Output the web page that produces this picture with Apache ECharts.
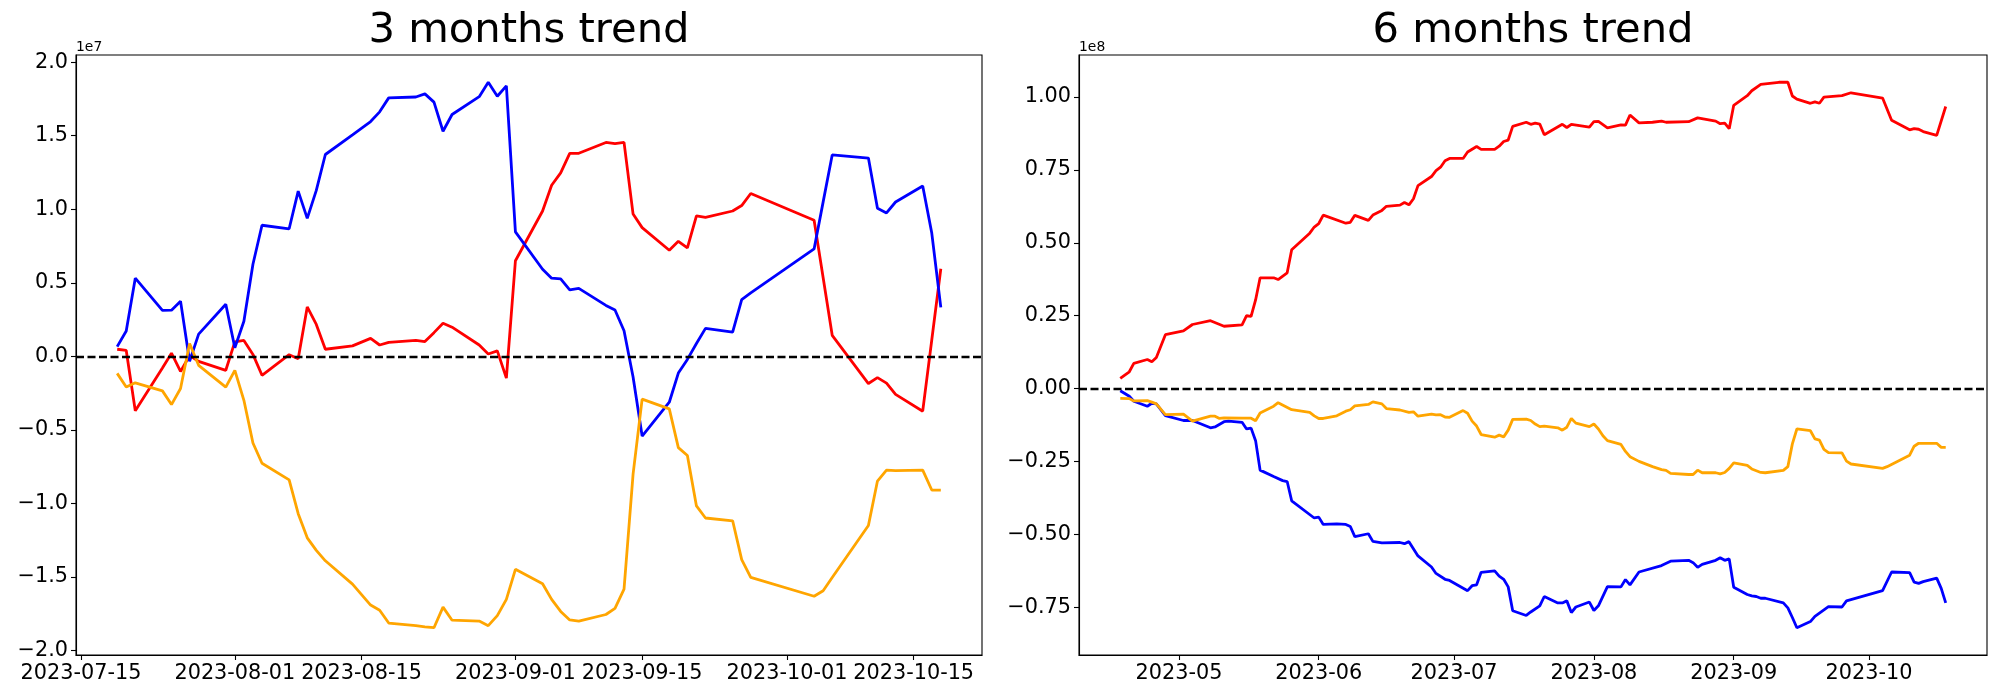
<!DOCTYPE html>
<html>
<head>
<meta charset="utf-8">
<script src="https://cdn.jsdelivr.net/npm/echarts@6/dist/echarts.min.js"></script>
<style>
html,body{margin:0;padding:0;background:#fff;}
#chart{width:2000px;height:700px;}
</style>
</head>
<body>
<div id="chart"></div>
<script>
// ---------- 3 months trend (values in units of 1e7) ----------
const leftDates = ['2023-07-19','2023-07-20','2023-07-21','2023-07-24','2023-07-25','2023-07-26','2023-07-27','2023-07-28','2023-07-31',
 '2023-08-01','2023-08-02','2023-08-03','2023-08-04','2023-08-07','2023-08-08','2023-08-09','2023-08-10','2023-08-11','2023-08-14','2023-08-16','2023-08-17','2023-08-18','2023-08-21','2023-08-22','2023-08-23','2023-08-24','2023-08-25','2023-08-28','2023-08-29','2023-08-30','2023-08-31',
 '2023-09-01','2023-09-04','2023-09-05','2023-09-06','2023-09-07','2023-09-08','2023-09-11','2023-09-12','2023-09-13','2023-09-14','2023-09-15','2023-09-18','2023-09-19','2023-09-20','2023-09-21','2023-09-22','2023-09-25','2023-09-26','2023-09-27',
 '2023-10-04','2023-10-05','2023-10-06','2023-10-10','2023-10-11','2023-10-12','2023-10-13','2023-10-16','2023-10-17','2023-10-18'];
const leftRed = [0.048,0.040,-0.370,-0.079,0.021,-0.103,0.005,-0.034,-0.095,
 0.098,0.108,0.013,-0.129,0.011,-0.016,0.336,0.217,0.048,0.071,0.122,0.077,0.095,0.108,0.100,0.161,0.225,0.198,0.077,0.016,0.037,-0.148,
 0.650,0.988,1.163,1.247,1.380,1.380,1.454,1.446,1.454,0.967,0.875,0.721,0.782,0.737,0.954,0.944,0.988,1.025,1.107,
 0.925,0.534,0.143,-0.185,-0.145,-0.182,-0.259,-0.373,0.111,0.595];
const leftBlue = [0.066,0.172,0.531,0.312,0.314,0.375,-0.034,0.151,0.354,
 0.058,0.238,0.626,0.891,0.867,1.123,0.938,1.128,1.372,1.506,1.596,1.662,1.757,1.763,1.784,1.728,1.530,1.644,1.765,1.863,1.768,1.839,
 0.846,0.592,0.531,0.526,0.452,0.462,0.346,0.315,0.174,-0.140,-0.542,-0.312,-0.114,-0.021,0.087,0.190,0.164,0.386,0.431,
 0.730,1.050,1.369,1.348,1.007,0.975,1.049,1.158,0.838,0.333];
const leftOrange = [-0.116,-0.209,-0.180,-0.235,-0.328,-0.219,0.087,-0.061,-0.209,
 -0.095,-0.299,-0.589,-0.727,-0.840,-1.070,-1.234,-1.319,-1.390,-1.549,-1.691,-1.726,-1.813,-1.831,-1.839,-1.845,-1.705,-1.794,-1.800,-1.831,-1.763,-1.652,
 -1.448,-1.546,-1.652,-1.734,-1.792,-1.800,-1.755,-1.713,-1.583,-0.801,-0.291,-0.357,-0.621,-0.674,-1.017,-1.099,-1.118,-1.382,-1.503,
 -1.631,-1.594,-1.504,-1.150,-0.848,-0.774,-0.777,-0.774,-0.909,-0.909];
const leftXTicks = ['2023-07-15','2023-08-01','2023-08-15','2023-09-01','2023-09-15','2023-10-01','2023-10-15'];
const leftYTicks = [-2.0,-1.5,-1.0,-0.5,0.0,0.5,1.0,1.5,2.0];

// ---------- 6 months trend (values in units of 1e8) ----------
const rightRedDates = ['2023-04-18','2023-04-20','2023-04-21','2023-04-24','2023-04-25','2023-04-26','2023-04-28',
 '2023-05-02','2023-05-04','2023-05-08','2023-05-11','2023-05-15','2023-05-16','2023-05-17','2023-05-18','2023-05-19','2023-05-22','2023-05-23','2023-05-25','2023-05-26','2023-05-30','2023-05-31',
 '2023-06-01','2023-06-02','2023-06-07','2023-06-08','2023-06-09','2023-06-12','2023-06-13','2023-06-15','2023-06-16','2023-06-19','2023-06-20','2023-06-21','2023-06-22','2023-06-23','2023-06-26','2023-06-27','2023-06-28','2023-06-29','2023-06-30',
 '2023-07-03','2023-07-04','2023-07-06','2023-07-07','2023-07-10','2023-07-11','2023-07-12','2023-07-13','2023-07-14','2023-07-17','2023-07-18','2023-07-19','2023-07-20','2023-07-21','2023-07-25','2023-07-26','2023-07-27','2023-07-31',
 '2023-08-01','2023-08-02','2023-08-04','2023-08-07','2023-08-08','2023-08-09','2023-08-11','2023-08-14','2023-08-16','2023-08-17','2023-08-22','2023-08-24','2023-08-28','2023-08-29','2023-08-30','2023-08-31',
 '2023-09-01','2023-09-04','2023-09-05','2023-09-07','2023-09-11','2023-09-13','2023-09-14','2023-09-15','2023-09-18','2023-09-19','2023-09-20','2023-09-21','2023-09-25','2023-09-27',
 '2023-10-04','2023-10-06','2023-10-10','2023-10-11','2023-10-12','2023-10-13','2023-10-16','2023-10-18'];
const rightRed = [0.035,0.058,0.087,0.100,0.092,0.107,0.185,
 0.198,0.220,0.233,0.214,0.219,0.250,0.248,0.304,0.380,0.380,0.374,0.397,0.476,0.533,0.554,
 0.566,0.595,0.567,0.570,0.594,0.577,0.595,0.611,0.625,0.629,0.638,0.630,0.651,0.696,0.727,0.747,0.759,0.781,0.789,
 0.789,0.811,0.830,0.820,0.820,0.831,0.847,0.852,0.899,0.913,0.906,0.910,0.907,0.870,0.906,0.895,0.906,0.896,
 0.915,0.916,0.894,0.904,0.903,0.938,0.911,0.913,0.917,0.913,0.915,0.928,0.917,0.908,0.910,0.891,
 0.971,1.004,1.021,1.043,1.050,1.050,1.003,0.992,0.978,0.983,0.978,0.999,1.004,1.014,
 0.996,0.920,0.887,0.891,0.889,0.881,0.868,0.967];

const rightBlueDates = ['2023-04-18','2023-04-20','2023-04-21','2023-04-24','2023-04-25','2023-04-26','2023-04-28',
 '2023-05-02','2023-05-04','2023-05-08','2023-05-09','2023-05-11','2023-05-12','2023-05-15','2023-05-16','2023-05-17','2023-05-18','2023-05-19','2023-05-22','2023-05-24','2023-05-25','2023-05-26','2023-05-31',
 '2023-06-01','2023-06-02','2023-06-05','2023-06-07','2023-06-08','2023-06-09','2023-06-12','2023-06-13','2023-06-15','2023-06-19','2023-06-20','2023-06-21','2023-06-23','2023-06-26','2023-06-27','2023-06-29','2023-06-30',
 '2023-07-04','2023-07-05','2023-07-06','2023-07-07','2023-07-10','2023-07-11','2023-07-12','2023-07-13','2023-07-14','2023-07-17','2023-07-18','2023-07-20','2023-07-21','2023-07-24','2023-07-25','2023-07-26','2023-07-27','2023-07-28','2023-07-31',
 '2023-08-01','2023-08-02','2023-08-04','2023-08-07','2023-08-08','2023-08-09','2023-08-11','2023-08-16','2023-08-18','2023-08-22','2023-08-23','2023-08-24','2023-08-25','2023-08-28','2023-08-29','2023-08-30','2023-08-31',
 '2023-09-01','2023-09-04','2023-09-05','2023-09-06','2023-09-07','2023-09-08','2023-09-12','2023-09-13','2023-09-14','2023-09-15','2023-09-18','2023-09-19','2023-09-22','2023-09-25','2023-09-26',
 '2023-10-04','2023-10-06','2023-10-10','2023-10-11','2023-10-12','2023-10-13','2023-10-16','2023-10-17','2023-10-18'];
const rightBlue = [-0.007,-0.026,-0.043,-0.060,-0.050,-0.052,-0.092,
 -0.109,-0.109,-0.134,-0.131,-0.113,-0.111,-0.115,-0.138,-0.135,-0.178,-0.279,-0.301,-0.315,-0.318,-0.384,-0.443,
 -0.440,-0.465,-0.463,-0.465,-0.472,-0.507,-0.497,-0.523,-0.528,-0.527,-0.531,-0.524,-0.573,-0.611,-0.633,-0.653,-0.657,
 -0.692,-0.675,-0.672,-0.629,-0.624,-0.642,-0.653,-0.679,-0.761,-0.777,-0.765,-0.744,-0.712,-0.734,-0.734,-0.727,-0.767,-0.748,-0.731,
 -0.760,-0.744,-0.678,-0.679,-0.654,-0.672,-0.628,-0.606,-0.591,-0.588,-0.596,-0.612,-0.602,-0.588,-0.579,-0.588,-0.583,
 -0.680,-0.705,-0.710,-0.712,-0.718,-0.718,-0.734,-0.751,-0.784,-0.819,-0.798,-0.780,-0.747,-0.748,-0.727,
 -0.692,-0.628,-0.630,-0.663,-0.667,-0.661,-0.649,-0.684,-0.734];

const rightOrangeDates = ['2023-04-18','2023-04-20','2023-04-21','2023-04-24','2023-04-25','2023-04-26','2023-04-28',
 '2023-05-02','2023-05-04','2023-05-08','2023-05-09','2023-05-10','2023-05-11','2023-05-15','2023-05-17','2023-05-18','2023-05-19','2023-05-22','2023-05-23','2023-05-26','2023-05-30','2023-05-31',
 '2023-06-01','2023-06-02','2023-06-05','2023-06-07','2023-06-08','2023-06-09','2023-06-12','2023-06-13','2023-06-15','2023-06-16','2023-06-19','2023-06-21','2023-06-22','2023-06-23','2023-06-26','2023-06-27','2023-06-28','2023-06-29','2023-06-30',
 '2023-07-03','2023-07-04','2023-07-05','2023-07-06','2023-07-07','2023-07-10','2023-07-11','2023-07-12','2023-07-13','2023-07-14','2023-07-17','2023-07-18','2023-07-19','2023-07-20','2023-07-21','2023-07-24','2023-07-25','2023-07-26','2023-07-27','2023-07-28','2023-07-31',
 '2023-08-01','2023-08-02','2023-08-03','2023-08-04','2023-08-07','2023-08-08','2023-08-09','2023-08-11','2023-08-14','2023-08-16','2023-08-17','2023-08-18','2023-08-22','2023-08-23','2023-08-24','2023-08-25','2023-08-28','2023-08-29','2023-08-30','2023-08-31',
 '2023-09-01','2023-09-04','2023-09-05','2023-09-07','2023-09-08','2023-09-12','2023-09-13','2023-09-14','2023-09-15','2023-09-18','2023-09-19','2023-09-20','2023-09-21','2023-09-22','2023-09-25','2023-09-26','2023-09-27',
 '2023-10-04','2023-10-05','2023-10-10','2023-10-11','2023-10-12','2023-10-16','2023-10-17','2023-10-18'];
const rightOrange = [-0.033,-0.034,-0.042,-0.041,-0.046,-0.052,-0.089,
 -0.087,-0.111,-0.094,-0.094,-0.102,-0.100,-0.101,-0.101,-0.110,-0.083,-0.060,-0.048,-0.072,-0.081,-0.093,
 -0.102,-0.102,-0.093,-0.077,-0.072,-0.059,-0.054,-0.045,-0.052,-0.068,-0.073,-0.081,-0.079,-0.094,-0.087,-0.090,-0.089,-0.097,-0.098,
 -0.075,-0.084,-0.111,-0.128,-0.157,-0.166,-0.159,-0.165,-0.142,-0.105,-0.104,-0.109,-0.121,-0.130,-0.128,-0.134,-0.142,-0.132,-0.102,-0.118,-0.130,
 -0.121,-0.138,-0.161,-0.178,-0.191,-0.215,-0.233,-0.249,-0.267,-0.277,-0.280,-0.290,-0.294,-0.294,-0.279,-0.288,-0.288,-0.292,-0.287,-0.273,
 -0.254,-0.263,-0.275,-0.287,-0.288,-0.280,-0.267,-0.189,-0.138,-0.144,-0.172,-0.176,-0.208,-0.219,-0.220,-0.248,-0.258,
 -0.273,-0.267,-0.228,-0.197,-0.187,-0.187,-0.201,-0.201];
const rightXTicks = ['2023-05-01','2023-06-01','2023-07-01','2023-08-01','2023-09-01','2023-10-01'];
const rightYTicks = [-0.75,-0.50,-0.25,0.00,0.25,0.50,0.75,1.00];

const titles = ['3 months trend', '6 months trend'];
const LEFT_SCALE = 1e7, RIGHT_SCALE = 1e8;

// ---------- helpers ----------
function ts(s){ const p = s.split('-').map(Number); return new Date(p[0], p[1]-1, p[2]).getTime(); }
function pad2(n){ return (n<10?'0':'')+n; }
function fmtDay(v){ const d=new Date(v); return d.getFullYear()+'-'+pad2(d.getMonth()+1)+'-'+pad2(d.getDate()); }
function fmtMonth(v){ const d=new Date(v); return d.getFullYear()+'-'+pad2(d.getMonth()+1); }
function fmtNum(v, dec){ const s = Math.abs(v).toFixed(dec); return (v < -1e-12 ? '\u2212' : '') + s; }
function pairs(dates, vals, scale){ return dates.map((d,i)=>[ts(d), vals[i]*scale]); }
function xRange(dates){ const a=ts(dates[0]), b=ts(dates[dates.length-1]); const m=0.05*(b-a); return [a-m, b+m]; }
function yRange(arrs, scale){ let lo=Infinity, hi=-Infinity; arrs.forEach(a=>a.forEach(v=>{lo=Math.min(lo,v);hi=Math.max(hi,v);})); const m=0.05*(hi-lo); return [(lo-m)*scale,(hi+m)*scale]; }

const FONT = 'DejaVu Sans';
const TICK_FS = 20.8;
const LINE_W = 2.8;
const grids = [
  {left:76, top:55, width:906, height:600},
  {left:1079, top:55, width:908, height:600}
];

const lx = xRange(leftDates);
const rx = xRange(rightRedDates);
const ly = yRange([leftRed,leftBlue,leftOrange], LEFT_SCALE);
const ry = yRange([rightRed,rightBlue,rightOrange], RIGHT_SCALE);

function xAxisCfg(idx, range, ticks, fmt){
  const tv = ticks.map(ts);
  return {
    type:'value', gridIndex:idx, min:range[0], max:range[1], scale:true,
    axisLine:{show:true, onZero:false, lineStyle:{color:'#000', width:1.1}},
    axisTick:{show:true, inside:false, length:5, lineStyle:{color:'#000', width:1.1}, customValues:tv},
    axisLabel:{show:true, customValues:tv, formatter:fmt, color:'#000', fontSize:TICK_FS, fontFamily:FONT, margin:8, hideOverlap:false},
    splitLine:{show:false}, minorTick:{show:false}
  };
}
function yAxisCfg(idx, range, ticks, scale, dec){
  const tv = ticks.map(v=>v*scale);
  return {
    type:'value', gridIndex:idx, min:range[0], max:range[1], scale:true,
    axisLine:{show:true, onZero:false, lineStyle:{color:'#000', width:1.1}},
    axisTick:{show:true, inside:false, length:5, lineStyle:{color:'#000', width:1.1}, customValues:tv},
    axisLabel:{show:true, customValues:tv, formatter:v=>fmtNum(v/scale, dec), color:'#000', fontSize:TICK_FS, fontFamily:FONT, margin:8},
    splitLine:{show:false}
  };
}
function lineSeries(idx, data, color, withZero){
  const s = {
    type:'line', xAxisIndex:idx, yAxisIndex:idx, data:data, showSymbol:false, symbol:'none',
    lineStyle:{color:color, width:LINE_W}, itemStyle:{color:color}, silent:true, z:2, animation:false
  };
  if(withZero){
    s.markLine = {
      silent:true, symbol:['none','none'], label:{show:false}, animation:false,
      lineStyle:{color:'#000', type:[8,3.5], width:2.4},
      emphasis:{disabled:true},
      data:[{yAxis:0}]
    };
  }
  return s;
}

const chart = echarts.init(document.getElementById('chart'), null, {renderer:'canvas'});
chart.setOption({
  backgroundColor:'#fff',
  animation:false,
  grid: grids.map(g=>Object.assign({show:true, borderColor:'#000', borderWidth:1.1, backgroundColor:'transparent', containLabel:false}, g)),
  xAxis:[ xAxisCfg(0, lx, leftXTicks, fmtDay), xAxisCfg(1, rx, rightXTicks, fmtMonth) ],
  yAxis:[ yAxisCfg(0, ly, leftYTicks, LEFT_SCALE, 1), yAxisCfg(1, ry, rightYTicks, RIGHT_SCALE, 2) ],
  series:[
    lineSeries(0, pairs(leftDates, leftRed, LEFT_SCALE), 'red', false),
    lineSeries(0, pairs(leftDates, leftBlue, LEFT_SCALE), 'blue', false),
    lineSeries(0, pairs(leftDates, leftOrange, LEFT_SCALE), 'orange', true),
    lineSeries(1, pairs(rightRedDates, rightRed, RIGHT_SCALE), 'red', false),
    lineSeries(1, pairs(rightBlueDates, rightBlue, RIGHT_SCALE), 'blue', false),
    lineSeries(1, pairs(rightOrangeDates, rightOrange, RIGHT_SCALE), 'orange', true)
  ],
  graphic:[
    {type:'text', x:grids[0].left+grids[0].width/2, y:31, style:{text:titles[0], font:'41.7px "DejaVu Sans"', fill:'#000', textAlign:'center', textVerticalAlign:'middle'}},
    {type:'text', x:grids[1].left+grids[1].width/2, y:31, style:{text:titles[1], font:'41.7px "DejaVu Sans"', fill:'#000', textAlign:'center', textVerticalAlign:'middle'}},
    {type:'text', x:grids[0].left, y:47, style:{text:'1e7', font:'13.9px "DejaVu Sans"', fill:'#000', textAlign:'left', textVerticalAlign:'middle'}},
    {type:'text', x:grids[1].left, y:47, style:{text:'1e8', font:'13.9px "DejaVu Sans"', fill:'#000', textAlign:'left', textVerticalAlign:'middle'}}
  ]
});
</script>
</body>
</html>
